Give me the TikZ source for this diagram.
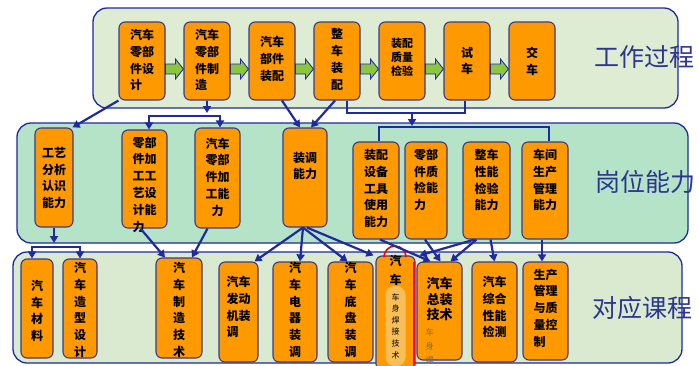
\documentclass[tikz,border=0pt]{standalone}
\usepackage{fontspec}
\newfontfamily\cjk{Noto Sans CJK SC}
\usetikzlibrary{calc,arrows.meta}
\definecolor{panelA}{RGB}{222,236,212}
\definecolor{panelB}{RGB}{181,227,199}
\definecolor{panelC}{RGB}{218,234,208}
\definecolor{boxfill}{RGB}{255,153,0}
\definecolor{boxline}{RGB}{58,58,140}
\definecolor{conn}{RGB}{30,42,158}
\definecolor{titlecol}{RGB}{44,53,144}
\definecolor{garrowfill}{RGB}{140,198,63}
\definecolor{hilite}{RGB}{247,200,110}
\definecolor{smallgray}{RGB}{130,110,80}
\newcommand\greenarr[2]{%
  \filldraw[fill=garrowfill, draw=conn, line width=0.8pt]
    ($(#1.east)+(0,3)$) -- ($(#2.west)+(-8,3)$) -- ($(#2.west)+(-8,-2)$) --
    ($(#2.west)+(0,8)$) -- ($(#2.west)+(-8,18)$) -- ($(#2.west)+(-8,13)$) --
    ($(#1.east)+(0,13)$) -- cycle;}
\begin{document}
\begin{tikzpicture}[x=1pt,y=-1pt,
  panel/.style={draw=conn, line width=1.3pt, rounded corners=14pt, inner sep=0pt},
  box/.style={draw=boxline, fill=boxfill, line width=1.1pt, rounded corners=6pt, inner sep=0pt},
  txt/.style={font=\cjk\bfseries\fontsize{12}{16.8}\selectfont, align=left, inner sep=0pt},
  txtc/.style={txt, align=center},
  title/.style={font=\cjk\fontsize{25}{30}\selectfont, text=titlecol, inner sep=0pt},
  arr/.style={draw=conn, line width=2.2pt, -{Triangle[length=7pt,width=8pt]}},
  ln/.style={draw=conn, line width=2.2pt},
  redmark/.style={draw=red, line width=1.6pt},
]
\useasboundingbox (0,0) rectangle (699,365);
\fill[white] (0,0) rectangle (699,365);

% panels
\node[panel, fill=panelA, minimum width=585, minimum height=100] (ptop) at (385.5,58) {};
\node[panel, fill=panelB, minimum width=671, minimum height=120] (pmid) at (352.5,183) {};
\node[panel, fill=panelC, minimum width=669, minimum height=111] (pbot) at (347.5,307.5) {};

% titles
\node[title] (t1) at (644,57) {工作过程};
\node[title] (t2) at (645,182) {岗位能力};
\node[title] (t3) at (642,308) {对应课程};

% top row
\node[box, minimum width=46, minimum height=78] (b1) at (142,61) {};
\node[box, minimum width=46, minimum height=78] (b2) at (207,61) {};
\node[box, minimum width=46, minimum height=78] (b3) at (272,61) {};
\node[box, minimum width=46, minimum height=78] (b4) at (337,61) {};
\node[box, minimum width=46, minimum height=78] (b5) at (402,61) {};
\node[box, minimum width=46, minimum height=78] (b6) at (467,61) {};
\node[box, minimum width=46, minimum height=78] (b7) at (532,61) {};
\node[txt] (b1t) at (142,60) {汽车\\零部\\件设\\计};
\node[txt] (b2t) at (207,60) {汽车\\零部\\件制\\造};
\node[txt] (b3t) at (272,59) {汽车\\部件\\装配};
\node[txtc] (b4t) at (337,59.5) {整\\车\\装\\配};
\node[txt, font=\cjk\bfseries\fontsize{11}{14}\selectfont] (b5t) at (402,57) {装配\\质量\\检验};
\node[txtc] (b6t) at (467,61) {试\\车};
\node[txtc] (b7t) at (532,61) {交\\车};
\greenarr{b1}{b2}
\greenarr{b2}{b3}
\greenarr{b3}{b4}
\greenarr{b4}{b5}
\greenarr{b5}{b6}
\greenarr{b6}{b7}

% middle row
\node[box, minimum width=38, minimum height=99] (m1) at (54,177.5) {};
\node[box, minimum width=45, minimum height=98] (m2) at (144.5,179) {};
\node[box, minimum width=45, minimum height=100] (m3) at (217.5,178) {};
\node[box, minimum width=44, minimum height=99] (m4) at (305,177.5) {};
\node[box, minimum width=46, minimum height=97] (m5) at (376,190.5) {};
\node[box, minimum width=42, minimum height=97] (m6) at (426,190.5) {};
\node[box, minimum width=47, minimum height=97] (m7) at (486.5,190.5) {};
\node[box, minimum width=46, minimum height=97] (m8) at (545,190.5) {};
\node[txt] (m1t) at (54,178) {工艺\\分析\\认识\\能力};
\node[txt] (m2t) at (144.5,184.5) {零部\\件加\\工工\\艺设\\计能\\力};
\node[txtc] (m3t) at (217.5,177) {汽车\\零部\\件加\\工能\\力};
\node[txt] (m4t) at (305,166) {装调\\能力};
\node[txt] (m5t) at (376,188.5) {装配\\设备\\工具\\使用\\能力};
\node[txt] (m6t) at (426,180) {零部\\件质\\检能\\力};
\node[txt] (m7t) at (486.5,180) {整车\\性能\\检验\\能力};
\node[txt] (m8t) at (545,180) {车间\\生产\\管理\\能力};

% bottom row
\node[box, minimum width=32, minimum height=99] (c1) at (37,308.5) {};
\node[box, minimum width=34, minimum height=99] (c2) at (80,308.5) {};
\node[box, minimum width=46, minimum height=100] (c3) at (179,308) {};
\node[box, minimum width=39, minimum height=100] (c4) at (238.5,312) {};
\node[box, minimum width=44, minimum height=100] (c5) at (295,312) {};
\node[box, minimum width=45, minimum height=100] (c6) at (350.5,312) {};
\node[box, minimum width=39, minimum height=114] (c7) at (395.5,313) {};
\node[box, minimum width=45, minimum height=98] (c8) at (439.5,311) {};
\node[box, minimum width=45, minimum height=100] (c9) at (494.5,312) {};
\node[box, minimum width=45, minimum height=98] (c10) at (545.5,311) {};
\node[fill=hilite, rounded corners=9pt, minimum width=20, minimum height=80, inner sep=0pt, opacity=0.8] (hl) at (395.5,326) {};
\node[txtc] (c1t) at (37,311) {汽\\车\\材\\料};
\node[txtc] (c2t) at (80,310) {汽\\车\\造\\型\\设\\计};
\node[txtc] (c3t) at (179,310) {汽\\车\\制\\造\\技\\术};
\node[txt] (c4t) at (238.5,307) {汽车\\发动\\机装\\调};
\node[txtc] (c5t) at (295,310) {汽\\车\\电\\器\\装\\调};
\node[txtc] (c6t) at (350.5,310) {汽\\车\\底\\盘\\装\\调};
\node[txtc, font=\cjk\bfseries\fontsize{12}{19}\selectfont] (c7t) at (395.5,270.5) {汽\\车};
\node[txtc, font=\cjk\fontsize{8}{11.6}\selectfont] (c7s) at (395.5,326) {车\\身\\焊\\接\\技\\术};
\node[txt, font=\cjk\bfseries\fontsize{13}{15.5}\selectfont] (c8t) at (439.5,299) {汽车\\总装\\技术};
\node[txtc, font=\cjk\fontsize{8.5}{14}\selectfont, text=smallgray] (c8s) at (429.5,346) {车\\身\\焊};
\node[txt] (c9t) at (494.5,307) {汽车\\综合\\性能\\检测};
\node[txt] (c10t) at (545.5,308) {生产\\管理\\与质\\量控\\制};

% red marks
\draw[redmark] (384,257) arc[start angle=180, end angle=360, radius=11];
\draw[redmark] (414,262) -- (414,366);

% connectors top -> middle
\draw[arr] (b1.south west) -- ([xshift=-1]m1.north east);
\coordinate (k1) at (207,113);
\coordinate (k1L) at (149,116);
\coordinate (k1R) at (220,116);
\draw[arr] (b2.south) -- (k1);
\draw[arr] (k1R) -- (k1L) -- (k1L |- m2.north);
\draw[arr] (k1L) -- (k1R) -- (k1R |- m3.north);
\draw[arr] ([xshift=10]b3.south) -- ([xshift=-5]m4.north);
\draw[arr] ([xshift=-2]b4.south) -- ([xshift=6]m4.north);
\coordinate (k2a) at (347,113);
\coordinate (k2b) at (465,113);
\coordinate (k2m) at (412,113);
\coordinate (k3m) at (412,126);
\coordinate (k3L) at (379,127);
\coordinate (k3R) at (549,127);
\draw[ln] (k2a |- b4.south) -- (k2a) -- (k2b) -- (k2b |- b6.south);
\draw[arr] (k2m) -- (k3m);
\draw[ln] (k3L |- m5.north) -- (k3L) -- (k3R) -- (k3R |- m8.north);

% connectors middle -> bottom
\coordinate (k4) at (54,243);
\coordinate (k4L) at (32,247);
\coordinate (k4R) at (80,247);
\draw[arr] (m1.south) -- (k4);
\draw[arr] (k4R) -- (k4L) -- (k4L |- c1.north);
\draw[arr] (k4L) -- (k4R) -- (k4R |- c2.north);
\draw[arr] ([xshift=-4]m2.south) -- ([xshift=-14]c3.north);
\draw[arr] ([xshift=-10]m3.south) -- ([xshift=13]c3.north);
\draw[arr] ([xshift=-2]m4.south) -- ([xshift=16]c4.north);
\draw[arr] ([xshift=-2]m4.south) -- ([xshift=5]c5.north);
\draw[arr] ([xshift=-2]m4.south) -- ([xshift=-3]c6.north);
\draw[arr] ([xshift=2]m4.south) -- ([xshift=-2]c7.north west);
\draw[arr] ([xshift=4]m5.south) -- ([xshift=-9]c8.north);
\draw[arr] ([xshift=-1]m6.south) -- ([xshift=1]c8.north);
\draw[arr] ([xshift=-10]m7.south) -- ([xshift=11]c8.north);
\draw[arr] ([xshift=-12]m7.south) -- ([xshift=4]c7.north east);
\draw[arr] ([xshift=4]m7.south) -- (c9.north);
\draw[arr] ([xshift=-3]m8.south) -- ([xshift=-3.5]c10.north);
\end{tikzpicture}
\end{document}
